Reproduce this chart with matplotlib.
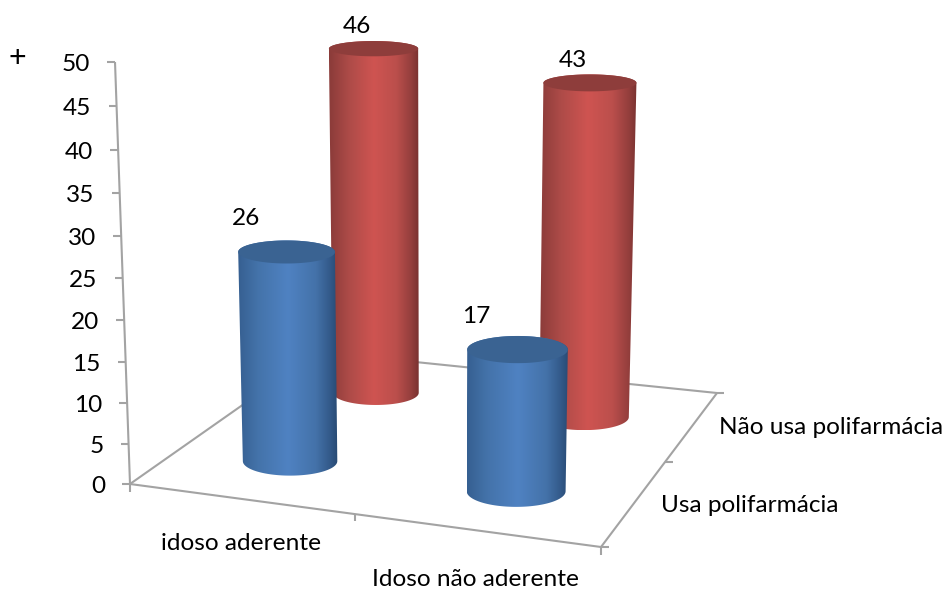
import numpy as np
import matplotlib
matplotlib.use("Agg")
import matplotlib.pyplot as plt
from matplotlib.colors import LinearSegmentedColormap
from matplotlib.patches import Polygon

plt.rcParams['font.family'] = ['Lato', 'DejaVu Sans']

categories = ["idoso aderente", "Idoso não aderente"]
series_names = ["Usa polifarmácia", "Não usa polifarmácia"]
usa_values = [26, 17]
nao_usa_values = [46, 43]
value_ticks = [0, 5, 10, 15, 20, 25, 30, 35, 40, 45, 50]

GREY = "#a3a3a3"
FONT = 17.6

# floor corners on screen, front left then counter-clockwise
x0, x1, x2, x3 = (130, 484), (601, 547), (717, 393), (318, 352)


def floor_matrix():
    A = []
    b = []
    for (u, v), (px, py) in zip([(0, 0), (1, 0), (1, 1), (0, 1)], [x0, x1, x2, x3]):
        A.append([u, v, 1, 0, 0, 0, -u * px, -v * px])
        A.append([0, 0, 0, u, v, 1, -u * py, -v * py])
        b += [px, py]
    h = np.linalg.solve(np.array(A, float), np.array(b, float))
    return np.append(h, 1).reshape(3, 3)


H = floor_matrix()
# uprights lean towards a vanishing point far below the floor
vert_col = -0.000943 * np.array([433.0, 9012.0, 1.0])


def project(u, v, z):
    p = H @ np.array([u, v, 1.0]) + z * vert_col
    return p[0] / p[2], p[1] / p[2], p[2]


def cylinder(ax, u, v, value, radius, cmap, top_color, zorder):
    bx, by, bw = project(u, v, 0)
    tx, ty, tw = project(u, v, value)
    br, tr = radius / bw, radius / tw
    # ellipses flatten towards the top of the scene
    bb = br * (0.155 + 0.00033 * by)
    tb = tr * (0.155 + 0.00033 * ty)

    t = np.linspace(0, np.pi, 80)
    lower = np.column_stack([bx - br * np.cos(t), by + bb * np.sin(t)])
    upper = np.column_stack([tx + tr * np.cos(t), ty - tb * np.sin(t)])
    body = Polygon(np.vstack([lower, upper]), closed=True, transform=ax.transData,
                   facecolor="none", edgecolor="none")
    ax.add_patch(body)

    grad = np.linspace(0, 1, 256).reshape(1, -1)
    left = min(bx - br, tx - tr)
    right = max(bx + br, tx + tr)
    im = ax.imshow(grad, cmap=cmap, extent=(left, right, by + bb, ty - tb),
                   aspect="auto", zorder=zorder, interpolation="bilinear")
    im.set_clip_path(body)

    t = np.linspace(0, 2 * np.pi, 160)
    cap = Polygon(np.column_stack([tx + tr * np.cos(t), ty + tb * np.sin(t)]),
                  closed=True, facecolor=top_color, edgecolor="none", zorder=zorder + 0.5)
    ax.add_patch(cap)
    return tx, ty


fig = plt.figure(figsize=(9.44, 5.9), dpi=100)
ax = fig.add_axes([0, 0, 1, 1])
ax.axis("off")

line = dict(color=GREY, lw=1.5, solid_capstyle="butt", zorder=1)

# floor outline
for a, b in [(x0, x1), (x1, x2), (x2, x3), (x3, x0)]:
    ax.plot([a[0], b[0]], [a[1], b[1]], **line)

# value axis
px0, py0, _ = project(0, 0, value_ticks[0])
px1, py1, _ = project(0, 0, value_ticks[-1])
ax.plot([px0, px1], [py0, py1], **line)
for val in value_ticks:
    px, py, _ = project(0, 0, val)
    ax.plot([px - 8, px], [py, py], **line)
    ax.text(px - 25, py + 2.5, str(val), ha="right", va="center", fontsize=FONT, color="black")

# small ticks along the floor edges
ax.plot([x0[0], x0[0]], [x0[1], x0[1] + 8], **line)
mx, my, _ = project(0.5, 0, 0)
ax.plot([mx, mx], [my, my + 7], **line)
ax.plot([x1[0], x1[0]], [x1[1], x1[1] + 8], **line)
ax.plot([x1[0], x1[0] + 8], [x1[1], x1[1]], **line)
mx, my, _ = project(1, 0.5, 0)
ax.plot([mx, mx + 8], [my, my], **line)
ax.plot([x2[0], x2[0] + 7], [x2[1], x2[1]], **line)

blue_map = LinearSegmentedColormap.from_list("blue_cyl", [
    (0, "#365f91"), (0.2, "#4473aa"), (0.5, "#4f82c2"), (0.78, "#4472a9"),
    (0.92, "#335a8a"), (1, "#284a73")])
red_map = LinearSegmentedColormap.from_list("red_cyl", [
    (0, "#8a3b39"), (0.22, "#ad4b48"), (0.5, "#cf5451"), (0.75, "#bb4f4c"),
    (0.92, "#933e3c"), (1, "#793230")])

u_pos = [0.256, 0.76]
v_front = [0.24, 0.23]
v_back = [0.74, 0.73]
bar_radius = 48.5

# back row first so the front row hides it
for i, val in enumerate(nao_usa_values):
    tx, ty = cylinder(ax, u_pos[i], v_back[i], val, bar_radius, red_map, "#8e3d3b", 3 + i)
    ax.text(tx - 17, ty - 22, str(val), ha="center", va="center", fontsize=FONT, zorder=10)
for i, val in enumerate(usa_values):
    tx, ty = cylinder(ax, u_pos[i], v_front[i], val, bar_radius, blue_map, "#3a6392", 6 + i)
    ax.text(tx - 41, ty - 33, str(val), ha="center", va="center", fontsize=FONT, zorder=10)

ax.text(241, 544, categories[0], ha="center", va="center", fontsize=FONT)
ax.text(476, 579, categories[1], ha="center", va="center", fontsize=FONT)
ax.text(750, 506, series_names[0], ha="center", va="center", fontsize=FONT)
ax.text(831, 427, series_names[1], ha="center", va="center", fontsize=FONT)
ax.text(17, 58, "+", ha="center", va="center", fontsize=22)

ax.set_xlim(0, 944)
ax.set_ylim(590, 0)
fig.savefig("out.png", dpi=100, facecolor="white")
